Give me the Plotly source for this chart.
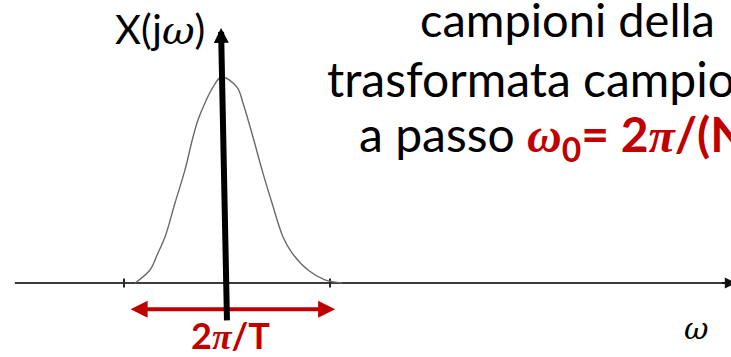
import plotly.graph_objects as go

# Spectrum of the continuous-time signal: omega in units of pi/T, magnitude normalised to the peak
omega = [-0.893, -0.748, -0.670, -0.602, -0.505, -0.408, -0.330, -0.282, -0.214, -0.136, -0.053,
         0.097, 0.155, 0.252, 0.340, 0.437, 0.544, 0.631, 0.786, 0.951, 1.117]
X_mag = [0.0, 0.063, 0.146, 0.223, 0.388, 0.549, 0.709, 0.791, 0.874, 0.951, 1.0,
         0.951, 0.874, 0.709, 0.549, 0.388, 0.223, 0.146, 0.063, 0.015, 0.0]

# Axis extent and the two marks at +/- pi/T
axis_start, axis_end = -2.06, 4.91
tick_pos = [-1.0, 1.0]
tick_half = 0.022

# Vertical impulse (sample) arrow: base and tip
impulse_base = (0.0, -0.189)
impulse_tip = (-0.058, 1.238)

# Double arrow marking the width 2*pi/T
span_from, span_to, span_y = -0.95, 1.05, -0.128

RED = "#C00000"
FONT = "Lato, 'Open Sans', sans-serif"
SERIF_NARROW = "'Liberation Serif', serif"
SERIF_WIDE = "'DejaVu Serif', serif"


def greek(ch, family=SERIF_NARROW):
    return f"<span style=\"font-family:{family}\"><i>{ch}</i></span>"


fig = go.Figure()

# horizontal omega axis
fig.add_trace(go.Scatter(x=[axis_start, axis_end], y=[0, 0], mode="lines",
                         line=dict(color="#3c3c3c", width=2.2), hoverinfo="skip"))

# tick marks
tx, ty = [], []
for t in tick_pos:
    tx += [t, t, None]
    ty += [-tick_half, tick_half, None]
fig.add_trace(go.Scatter(x=tx, y=ty, mode="lines",
                         line=dict(color="#2a2a2a", width=2), hoverinfo="skip"))

# spectrum curve
fig.add_trace(go.Scatter(x=omega, y=X_mag, mode="lines",
                         line=dict(color="#6a6a6a", width=1.4, shape="spline", smoothing=1.0),
                         hoverinfo="skip"))

annotations = [
    # arrowhead on the omega axis
    dict(x=axis_end + 0.03, y=0, ax=axis_end - 0.12, ay=0, xref="x", yref="y",
         axref="x", ayref="y", text="", showarrow=True, arrowhead=2,
         arrowsize=1.0, arrowwidth=2.2, arrowcolor="#111111", standoff=0),
    # red double arrow 2pi/T
    dict(x=span_to, y=span_y, ax=span_from, ay=span_y, xref="x", yref="y",
         axref="x", ayref="y", text="", showarrow=True, arrowhead=2, startarrowhead=2,
         arrowside="end+start", arrowsize=0.85, startarrowsize=0.85,
         arrowwidth=4, arrowcolor=RED, standoff=0, startstandoff=0),
    # sample impulse
    dict(x=impulse_tip[0], y=impulse_tip[1], ax=impulse_base[0], ay=impulse_base[1],
         xref="x", yref="y", axref="x", ayref="y", text="", showarrow=True,
         arrowhead=2, arrowsize=0.5, arrowwidth=6, arrowcolor="#000000", standoff=0),
    # labels
    dict(x=-0.65, y=1.232, xref="x", yref="y", text="X(j" + greek("ω", SERIF_WIDE) + ")",
         showarrow=False, font=dict(family=FONT, size=40, color="#000000"),
         xanchor="center", yanchor="middle"),
    dict(x=0.03, y=-0.252, xref="x", yref="y", text="<b>2" + greek("π") + "/T</b>",
         showarrow=False, font=dict(family=FONT, size=36, color=RED),
         xanchor="center", yanchor="middle"),
    dict(x=4.553, y=-0.223, xref="x", yref="y", text="<i>ω</i>", showarrow=False,
         font=dict(family=SERIF_WIDE, size=30, color="#000000"),
         xanchor="center", yanchor="middle"),
    dict(x=1.854, y=1.282, xref="x", yref="y", text="campioni della", showarrow=False,
         font=dict(family=FONT, size=47, color="#000000"), xanchor="left", yanchor="middle"),
    dict(x=0.951, y=0.995, xref="x", yref="y", text="trasformata campio", showarrow=False,
         font=dict(family=FONT, size=48, color="#000000"), xanchor="left", yanchor="middle"),
    dict(x=1.262, y=0.709, xref="x", yref="y",
         text=(f"a passo <span style='color:{RED}'><b>" + greek("ω")
               + "<sub>0</sub>= 2" + greek("π") + "/(N</b></span>"),
         showarrow=False, font=dict(family=FONT, size=48, color="#000000"),
         xanchor="left", yanchor="middle"),
]

fig.update_layout(
    width=731, height=357,
    margin=dict(l=0, r=0, t=0, b=0),
    paper_bgcolor="white", plot_bgcolor="white",
    showlegend=False,
    xaxis=dict(range=[-227 / 103, 504 / 103], visible=False, fixedrange=True),
    yaxis=dict(range=[-74 / 206, 283 / 206], visible=False, fixedrange=True),
    annotations=annotations,
)

fig.write_html("out.html", config={"displayModeBar": False})
